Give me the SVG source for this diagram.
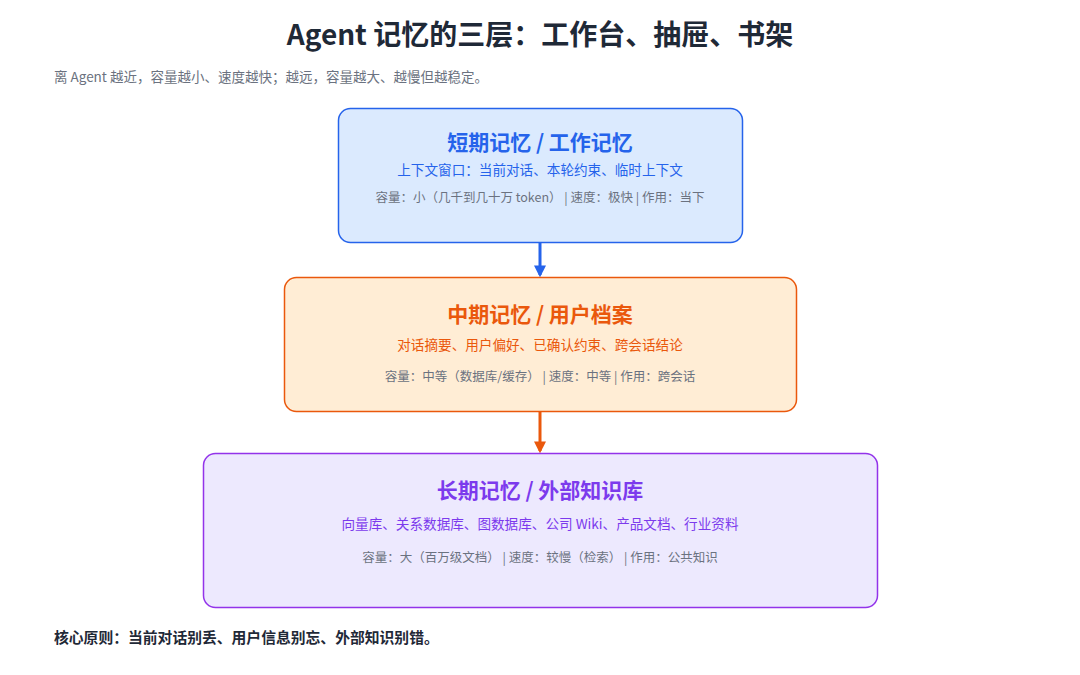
<svg xmlns="http://www.w3.org/2000/svg" width="1080" height="675" viewBox="0 0 1080 675">
<style>
text{font-family:"Noto Sans CJK SC","Noto Sans",sans-serif;text-anchor:middle}
.t{font-size:21px;font-weight:700}
.s{font-size:13.6px}
.m{font-size:12.5px;fill:#6b7280}
</style>
<defs>
<marker id="ab" viewBox="0 0 10 10" refX="8" refY="5" markerWidth="4" markerHeight="4" orient="auto"><path d="M0,0L10,5L0,10z" fill="#2563eb"/></marker>
<marker id="ao" viewBox="0 0 10 10" refX="8" refY="5" markerWidth="4" markerHeight="4" orient="auto"><path d="M0,0L10,5L0,10z" fill="#ea580c"/></marker>
</defs>
<rect width="1080" height="675" fill="#fff"/>
<text x="540" y="45" style="font-size:28px;font-weight:700;fill:#1f2937">Agent 记忆的三层：工作台、抽屉、书架</text>
<text x="54" y="82" style="font-size:13.5px;fill:#6b7280;text-anchor:start">离 Agent 越近，容量越小、速度越快；越远，容量越大、越慢但越稳定。</text>
<g id="connectors">
<line x1="540" y1="243" x2="540" y2="275" stroke="#2563eb" stroke-width="3" marker-end="url(#ab)"/>
<line x1="540" y1="412" x2="540" y2="451" stroke="#ea580c" stroke-width="3" marker-end="url(#ao)"/>
</g>
<g id="short">
<rect x="338.5" y="108.5" width="404" height="134" rx="12" fill="#dbeafe" stroke="#2563eb" stroke-width="1.5"/>
<text x="540" y="150" class="t" fill="#2563eb">短期记忆 / 工作记忆</text>
<text x="540" y="175" class="s" fill="#2563eb">上下文窗口：当前对话、本轮约束、临时上下文</text>
<text x="540" y="202" class="m">容量：小（几千到几十万 token） | 速度：极快 | 作用：当下</text>
</g>
<g id="mid">
<rect x="284.5" y="277.5" width="512" height="134" rx="12" fill="#ffedd5" stroke="#ea580c" stroke-width="1.5"/>
<text x="540" y="322" class="t" fill="#ea580c">中期记忆 / 用户档案</text>
<text x="540" y="350" class="s" fill="#ea580c">对话摘要、用户偏好、已确认约束、跨会话结论</text>
<text x="540" y="381" class="m">容量：中等（数据库/缓存） | 速度：中等 | 作用：跨会话</text>
</g>
<g id="long">
<rect x="203.5" y="453.5" width="674" height="154" rx="12" fill="#ede9fe" stroke="#9333ea" stroke-width="1.5"/>
<text x="540" y="498" class="t" fill="#7c3aed">长期记忆 / 外部知识库</text>
<text x="540" y="529" class="s" fill="#7c3aed">向量库、关系数据库、图数据库、公司 Wiki、产品文档、行业资料</text>
<text x="540" y="562" class="m">容量：大（百万级文档） | 速度：较慢（检索） | 作用：公共知识</text>
</g>
<text x="54" y="643" style="font-size:14.8px;font-weight:700;fill:#1f2937;text-anchor:start">核心原则：当前对话别丢、用户信息别忘、外部知识别错。</text>
</svg>
